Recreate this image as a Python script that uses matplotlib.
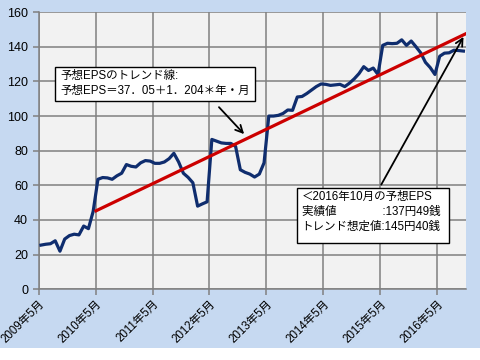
import matplotlib
matplotlib.use('Agg')
import matplotlib.pyplot as plt
import numpy as np
from matplotlib.patches import Rectangle

plt.rcParams['font.family'] = ['Liberation Sans', 'Noto Sans CJK JP', 'DejaVu Sans']

# monthly forecast EPS, 2009/5 .. 2016/10
eps = [25.5, 26, 26.3, 28, 22, 29, 31, 31.8, 31.4, 36.5, 35, 45,
       63.5, 64.5, 64.3, 63.5, 65.5, 67, 72, 71, 70.6, 73, 74.3, 74,
       72.7, 72.7, 73.5, 75.4, 78.5, 73.5, 67, 64.6, 61.5, 48, 49.3, 50.5,
       86.5, 85.5, 84.5, 84.2, 84.2, 82.5, 69, 67.5, 66.5, 64.8, 66.5, 73,
       100, 100, 100.4, 101.5, 103.5, 103.3, 111, 111.3, 113, 115, 117, 118.5,
       118.3, 117.7, 118, 118.3, 117, 119, 121.5, 124.5, 128.5, 126.3, 127.7, 124,
       140.8, 142, 141.8, 142, 144, 140.8, 143.3, 140, 136.5, 131, 128, 124,
       134.5, 136.3, 136.5, 138, 137.8, 137.5]

tick_months = [0, 12, 24, 36, 48, 60, 72, 84]
tick_labels = ['2009年5月', '2010年5月', '2011年5月', '2012年5月',
               '2013年5月', '2014年5月', '2015年5月', '2016年5月']

trend_x = [12.1, 90]
trend_y = [45.3, 147.5]

note_trend = '予想EPSのトレンド線:\n予想EPS＝37．05＋1．204＊年・月'
note_last = '＜2016年10月の予想EPS\n実績値　　　　:137円49銭\nトレンド想定値:145円40銭'

fig = plt.figure(figsize=(4.8, 3.6), dpi=100, facecolor='#C6D9F1')
fig.patches.append(Rectangle((0, 0), 1, 12 / 360, transform=fig.transFigure,
                             facecolor='white', edgecolor='none', zorder=0))
ax = fig.add_axes([0.0804, 0.1964, 0.890, 0.770])
ax.set_facecolor('#F2F2F2')

x = np.arange(len(eps)) + 0.5
ax.plot(x, eps, color='#0F2D6E', lw=2.3, zorder=3, solid_joinstyle='round')
ax.plot(trend_x, trend_y, color='#CC0000', lw=2.3, zorder=4)

ax.set_xlim(0, 90)
ax.set_ylim(0, 160)
ax.set_yticks(np.arange(0, 161, 20))
ax.set_xticks(tick_months)
ax.set_xticklabels(tick_labels, rotation=45, ha='right', rotation_mode='anchor', fontsize=8.3)

ax.grid(color='#808080', lw=1.1)
ax.set_axisbelow(True)
for s in ['top', 'right']:
    ax.spines[s].set_visible(False)
for s in ['left', 'bottom']:
    ax.spines[s].set_color('#808080')
    ax.spines[s].set_linewidth(1.1)
ax.tick_params(direction='out', length=4, color='#808080', width=1.1)
ax.tick_params(axis='y', labelsize=9)
ax.tick_params(axis='x', pad=2)

arrow = dict(arrowstyle='->', color='black', lw=1.3, mutation_scale=13)
ax.annotate('', xy=(43.7, 88.4), xytext=(37.6, 106.3), arrowprops=arrow, zorder=5)
ax.annotate('', xy=(89.8, 147.1), xytext=(71.9, 59), arrowprops=arrow, zorder=5)

# annotation boxes (axes fractions)
for x0, x1, y0, y1 in [(0.0384, 0.5063, 0.679, 0.8027), (0.6053, 0.9602, 0.1659, 0.3642)]:
    ax.add_patch(Rectangle((x0, y0), x1 - x0, y1 - y0, transform=ax.transAxes,
                           facecolor='white', edgecolor='black', lw=1, zorder=6))
ax.text(0.0501, 0.7425, note_trend, transform=ax.transAxes, ha='left', va='center',
        fontsize=8.3, linespacing=1.35, zorder=7)
ax.text(0.6156, 0.2791, note_last, transform=ax.transAxes, ha='left', va='center',
        fontsize=8.3, linespacing=1.35, zorder=7)

fig.savefig('out.png', dpi=100, facecolor=fig.get_facecolor())
